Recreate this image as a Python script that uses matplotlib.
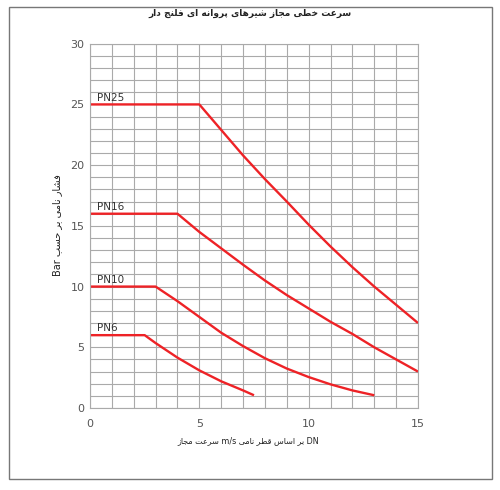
import matplotlib
matplotlib.use("Agg")
import matplotlib.pyplot as plt
from matplotlib.patches import Rectangle

plt.rcParams["font.family"] = ["DejaVu Sans"]

# values (velocity m/s -> pressure bar)
pn25_x = [0, 5, 6, 7, 8, 9, 10, 11, 12, 13, 14, 15]
pn25_y = [25, 25, 22.9, 20.8, 18.85, 17.0, 15.1, 13.3, 11.6, 10.0, 8.5, 7.0]
pn16_x = [0, 4, 5, 6, 7, 8, 9, 10, 11, 12, 13, 14, 15]
pn16_y = [16, 16, 14.5, 13.15, 11.8, 10.5, 9.3, 8.2, 7.1, 6.1, 5.0, 4.0, 3.0]
pn10_x = [0, 3, 4, 5, 6, 7, 8, 9, 10, 11, 12, 13]
pn10_y = [10, 10, 8.8, 7.5, 6.2, 5.1, 4.1, 3.25, 2.55, 1.95, 1.45, 1.05]
pn6_x = [0, 2.5, 3, 4, 5, 6, 7, 7.5]
pn6_y = [6, 6, 5.35, 4.15, 3.1, 2.2, 1.45, 1.05]
series_names = ["PN25", "PN16", "PN10", "PN6"]

x_ticks = [0, 5, 10, 15]
y_ticks = [0, 5, 10, 15, 20, 25, 30]

title = "سرعت خطی مجاز شیرهای پروانه ای فلنج دار"
x_label = "سرعت مجاز m/s بر اساس قطر نامی DN"
y_label = "فشار نامی بر حسب Bar"

# matplotlib has no arabic shaping, so map letters to presentation forms
FORMS = {
    "ا": ("\ufe8d", "\ufe8e"),
    "ب": ("\ufe8f", "\ufe90", "\ufe91", "\ufe92"),
    "پ": ("\ufb56", "\ufb57", "\ufb58", "\ufb59"),
    "ت": ("\ufe95", "\ufe96", "\ufe97", "\ufe98"),
    "ج": ("\ufe9d", "\ufe9e", "\ufe9f", "\ufea0"),
    "ح": ("\ufea1", "\ufea2", "\ufea3", "\ufea4"),
    "خ": ("\ufea5", "\ufea6", "\ufea7", "\ufea8"),
    "د": ("\ufea9", "\ufeaa"),
    "ر": ("\ufead", "\ufeae"),
    "ز": ("\ufeaf", "\ufeb0"),
    "س": ("\ufeb1", "\ufeb2", "\ufeb3", "\ufeb4"),
    "ش": ("\ufeb5", "\ufeb6", "\ufeb7", "\ufeb8"),
    "ط": ("\ufec1", "\ufec2", "\ufec3", "\ufec4"),
    "ع": ("\ufec9", "\ufeca", "\ufecb", "\ufecc"),
    "ف": ("\ufed1", "\ufed2", "\ufed3", "\ufed4"),
    "ق": ("\ufed5", "\ufed6", "\ufed7", "\ufed8"),
    "ل": ("\ufedd", "\ufede", "\ufedf", "\ufee0"),
    "م": ("\ufee1", "\ufee2", "\ufee3", "\ufee4"),
    "ن": ("\ufee5", "\ufee6", "\ufee7", "\ufee8"),
    "ه": ("\ufee9", "\ufeea", "\ufeeb", "\ufeec"),
    "و": ("\ufeed", "\ufeee"),
    "ی": ("\ufbfc", "\ufbfd", "\ufbfe", "\ufbff"),
}


def shape_word(w):
    out = []
    for i, ch in enumerate(w):
        if ch not in FORMS:
            out.append(ch)
            continue
        prev = w[i - 1] if i > 0 else None
        nxt = w[i + 1] if i < len(w) - 1 else None
        jp = prev in FORMS and len(FORMS[prev]) == 4
        jn = len(FORMS[ch]) == 4 and nxt in FORMS
        if jp and jn:
            out.append(FORMS[ch][3])
        elif jp:
            out.append(FORMS[ch][1])
        elif jn:
            out.append(FORMS[ch][2])
        else:
            out.append(FORMS[ch][0])
    return "".join(reversed(out))


def is_farsi(w):
    return any(c in FORMS for c in w)


def visual(text, base="rtl"):
    words = text.split(" ")
    if base == "rtl":
        return " ".join(shape_word(w) if is_farsi(w) else w for w in reversed(words))
    out, run = [], []
    for w in words:
        if is_farsi(w):
            run.append(shape_word(w))
        else:
            out += run[::-1]
            run = []
            out.append(w)
    out += run[::-1]
    return " ".join(out)


fig = plt.figure(figsize=(5, 4.9), dpi=100)
fig.patches.append(Rectangle((0.018, 0.0224), 0.966, 0.963, transform=fig.transFigure,
                             fill=False, edgecolor="#777777", linewidth=1.0))

ax = fig.add_axes([0.18, 0.1673, 0.656, 0.7435])
ax.set_xlim(0, 15)
ax.set_ylim(0, 30)
ax.set_xticks(range(0, 16), minor=True)
ax.set_yticks(range(0, 31), minor=True)
ax.set_xticks(x_ticks)
ax.set_yticks(y_ticks)
ax.grid(True, which="both", color="#aaaaaa", linewidth=0.8)
ax.set_axisbelow(True)
for s in ax.spines.values():
    s.set_color("#aaaaaa")
    s.set_linewidth(0.8)
ax.tick_params(which="both", length=0, labelsize=8, labelcolor="#555555")
ax.tick_params(axis="x", pad=8)
ax.tick_params(axis="y", pad=4)

red = "#ee2226"
for name, xs, ys in zip(series_names, [pn25_x, pn16_x, pn10_x, pn6_x],
                        [pn25_y, pn16_y, pn10_y, pn6_y]):
    ax.plot(xs, ys, color=red, linewidth=1.7, solid_capstyle="butt", clip_on=False)
    ax.text(0.3, ys[0] + 0.15, name, fontsize=7.5, color="#333333", va="bottom", ha="left")

fig.text(0.5, 0.972, visual(title), fontsize=6.5, fontweight="bold", color="#222222",
         ha="center", va="center")
fig.text(0.497, 0.10, visual(x_label, base="ltr"), fontsize=5.8, color="#222222",
         ha="center", va="center")
fig.text(0.114, 0.54, visual(y_label), fontsize=7, color="#222222",
         ha="center", va="center", rotation=90)

fig.savefig("out.png", dpi=100)
